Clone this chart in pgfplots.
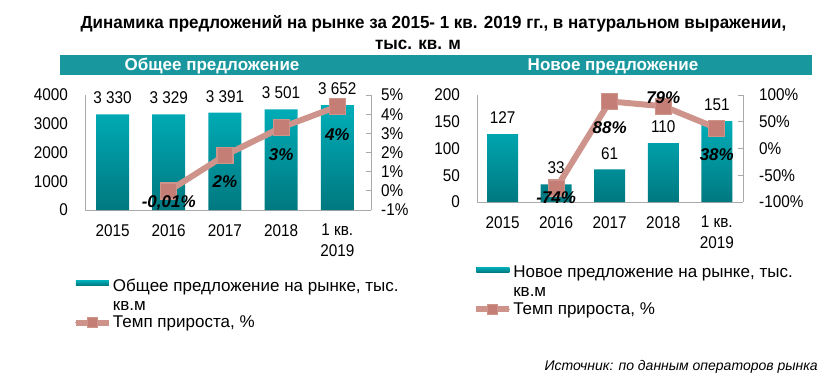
\documentclass[border=0pt]{standalone}
\usepackage{pgfplots}
\pgfplotsset{compat=1.18}
\usepackage{fontspec}
\setmainfont{Liberation Sans}[FakeStretch=0.9]
\newfontfamily\widefont{Liberation Sans}
\newfontfamily\titlefont{Liberation Sans}[FakeStretch=0.97]
\definecolor{bartop}{RGB}{0,174,184}
\definecolor{barbot}{RGB}{0,120,128}
\definecolor{barleg}{RGB}{0,140,150}
\definecolor{banner}{RGB}{24,152,158}
\definecolor{linec}{RGB}{206,148,140}
\definecolor{markc}{RGB}{196,126,118}
\definecolor{axgray}{RGB}{170,170,170}
\newcommand{\tickfont}{\fontsize{17}{21}\selectfont}
\pgfplotsset{
  base/.style={scale only axis, clip=false,
    axis line style={-, draw=axgray, line width=1pt},
    xtick={0,1,2,3,4},
    xticklabels={2015,2016,2017,2018,{1 кв.\\2019}},
    xticklabel style={font=\tickfont, align=center, inner sep=0pt, yshift=-14pt},
    yticklabel style={font=\tickfont, inner sep=0pt},
    major tick length=0pt,
  },
  rightax/.style={scale only axis, clip=false, axis x line=none, axis y line*=right,
    axis line style={-, draw=axgray, line width=1pt},
    yticklabel style={font=\tickfont, inner sep=0pt, anchor=west},
    major tick length=5pt, tick align=inside, ytick style={draw=axgray, line width=1pt},
  },
  tline/.style={linec, line width=6pt, mark=square*, mark size=8pt,
    mark options={fill=markc, draw=linec, line width=1.2pt}},
  blegend/.style={legend image code/.code={\fill[top color=bartop, bottom color=barbot] (0pt,10pt) rectangle (33pt,15pt);}},
  llegend/.style={legend image code/.code={\draw[linec, line width=6pt] (0pt,0pt) -- (33pt,0pt);
      \draw[mark repeat=2,mark phase=2, linec, line width=0pt, mark=square*, mark size=5pt, mark options={fill=markc, draw=linec, line width=1pt}] plot coordinates {(0pt,0pt)(16.5pt,0pt)(33pt,0pt)};}},
  legsty/.style={legend style={draw=none, fill=none, inner sep=0pt, outer sep=0pt,
      font=\widefont\fontsize{17}{19}\selectfont, row sep=4pt, column sep=1pt,
      nodes={align=left, inner sep=0pt}}, legend cell align=left},
}
\begin{document}
\begin{tikzpicture}[x=1pt,y=1pt]
\path[use as bounding box] (0pt,0pt) rectangle (834pt,381pt);
% title
\node[font=\titlefont\bfseries\fontsize{17.5}{20}\selectfont, anchor=base] at (433.5pt,352pt) {Динамика предложений на рынке за 2015- 1 кв. 2019 гг., в натуральном выражении,};
\node[font=\titlefont\bfseries\fontsize{17.5}{20}\selectfont, anchor=base] at (418pt,331pt) {тыс. кв. м};
% banner
\fill[banner] (60pt,306pt) rectangle (812pt,326pt);
\node[font=\widefont\bfseries\fontsize{17}{18}\selectfont, text=white, anchor=base] at (212pt,310pt) {Общее предложение};
\node[font=\widefont\bfseries\fontsize{17}{18}\selectfont, text=white, anchor=base] at (613pt,310pt) {Новое предложение};
% source
\node[font=\widefont\itshape\fontsize{14}{15}\selectfont, anchor=base east, inner sep=0pt] at (818pt,11pt) {Источник: по данным операторов рынка};

% ===== left chart =====
\begin{axis}[base, legsty, at={(85pt,171pt)}, anchor=south west, width=286pt, height=115pt,
  xmin=-0.49, xmax=4.6, ymin=0, ymax=4000,
  axis x line*=bottom, axis y line*=left,
  ytick={0,1000,2000,3000,4000}, yticklabels={0,1000,2000,3000,4000},
  yticklabel style={xshift=-17pt},
  legend style={at={(-0.042,-0.6)}, anchor=north west}]
\addplot[ybar, bar width=33pt, draw=none, top color=bartop, bottom color=barbot, blegend]
  table {
x y
0 3330
1 3329
2 3391
3 3501
4 3652
};
\addlegendentry{Общее предложение на рынке, тыс.\\кв.м}
\addlegendimage{tline, llegend}
\addlegendentry{Темп прироста, \%}
\addplot[draw=none, mark=none, nodes near coords, point meta=explicit symbolic,
  every node near coord/.append style={font=\tickfont, text=black, anchor=south, inner sep=0pt, yshift=10pt}, forget plot]
  table[col sep=comma, meta=lab] {
x,y,lab
0,3330,3 330
1,3329,3 329
2,3391,3 391
3,3501,3 501
4,3652,3 652
};
\end{axis}
\begin{axis}[rightax, at={(85pt,171pt)}, anchor=south west, width=286pt, height=115pt,
  xmin=-0.49, xmax=4.6, ymin=-1, ymax=5,
  ytick={-1,0,1,2,3,4,5}, yticklabels={-1\%,0\%,1\%,2\%,3\%,4\%,5\%},
  yticklabel style={xshift=10pt}]
\addplot[tline] table {
x y
1 -0.01
2 1.85
3 3.3
4 4.4
};
\addplot[draw=none, mark=none, nodes near coords, point meta=explicit symbolic,
  visualization depends on={value \thisrow{dy}\as\dy},
  every node near coord/.append style={font=\widefont\bfseries\itshape\tickfont, text=black, anchor=center, inner sep=0pt, yshift=\dy pt}]
  table[meta=lab] {
x y lab dy
1 -0.01 -0,01\% -12
2 1.85 2\% -26
3 3.3 3\% -27
4 4.4 4\% -28
};
\end{axis}

% ===== right chart =====
\begin{axis}[base, legsty, at={(477pt,179pt)}, anchor=south west, width=266pt, height=107pt,
  xmin=-0.48, xmax=4.49, ymin=0, ymax=200,
  axis x line*=bottom, axis y line*=left,
  ytick={0,50,100,150,200}, yticklabels={0,50,100,150,200},
  yticklabel style={xshift=-17pt},
  legend style={at={(-0.014,-0.6)}, anchor=north west}]
\addplot[ybar, bar width=31pt, draw=none, top color=bartop, bottom color=barbot, blegend]
  table {
x y
0 127
1 33
2 61
3 110
4 151
};
\addlegendentry{Новое предложение на рынке, тыс.\\кв.м}
\addlegendimage{tline, llegend}
\addlegendentry{Темп прироста, \%}
\addplot[draw=none, mark=none, nodes near coords, point meta=explicit symbolic,
  every node near coord/.append style={font=\tickfont, text=black, anchor=south, inner sep=0pt, yshift=10pt}, forget plot]
  table[meta=lab] {
x y lab
0 127 127
1 33 33
2 61 61
3 110 110
4 151 151
};
\end{axis}
\begin{axis}[rightax, at={(477pt,179pt)}, anchor=south west, width=266pt, height=107pt,
  xmin=-0.48, xmax=4.49, ymin=-100, ymax=100,
  ytick={-100,-50,0,50,100}, yticklabels={-100\%,-50\%,0\%,50\%,100\%},
  yticklabel style={xshift=16pt}]
\addplot[tline] table {
x y
1 -74
2 88
3 79
4 38
};
\addplot[draw=none, mark=none, nodes near coords, point meta=explicit symbolic,
  visualization depends on={value \thisrow{dy}\as\dy},
  every node near coord/.append style={font=\widefont\bfseries\itshape\tickfont, text=black, anchor=center, inner sep=0pt, yshift=\dy pt}]
  table[meta=lab] {
x y lab dy
1 -74 -74\% -10
2 88 88\% -26
3 79 79\% 9
4 38 38\% -26
};
\end{axis}
\end{tikzpicture}
\end{document}
